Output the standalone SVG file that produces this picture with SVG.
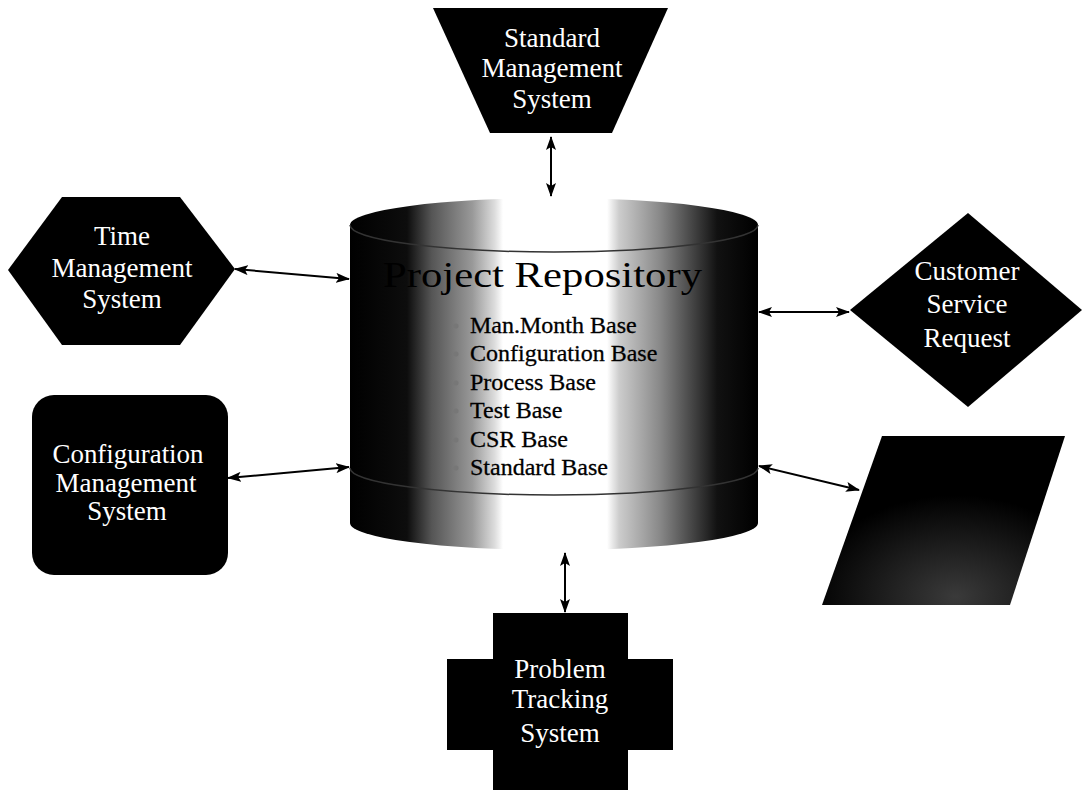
<svg xmlns="http://www.w3.org/2000/svg" width="1084" height="793" viewBox="0 0 1084 793">
<style>
.lbl{font-family:"Liberation Serif","Times New Roman",serif;font-size:27px;fill:#fff;text-anchor:middle}
.title{font-family:"Liberation Serif","Times New Roman",serif;font-size:36px;fill:#000}
.item{font-family:"Liberation Serif","Times New Roman",serif;font-size:24px;fill:#000;stroke:#000;stroke-width:0.3}
.node{fill:#000}
.conn{stroke:#000;stroke-width:2;fill:none;marker-start:url(#ah);marker-end:url(#ah)}
</style>
<defs>
<marker id="ah" viewBox="0 0 14 10" refX="13" refY="5" markerWidth="14" markerHeight="10" markerUnits="userSpaceOnUse" orient="auto-start-reverse">
<path d="M0,0 L14,5 L0,10 L3,5 z" fill="#000"/>
</marker>
<linearGradient id="cyl" x1="350" y1="0" x2="758" y2="0" gradientUnits="userSpaceOnUse">
<stop offset="0" stop-color="#000"/>
<stop offset="0.14" stop-color="#0d0d0d"/>
<stop offset="0.2" stop-color="#555"/>
<stop offset="0.3" stop-color="#999"/>
<stop offset="0.355" stop-color="#ddd"/>
<stop offset="0.375" stop-color="#fff"/>
<stop offset="0.63" stop-color="#fff"/>
<stop offset="0.66" stop-color="#ccc"/>
<stop offset="0.76" stop-color="#888"/>
<stop offset="0.84" stop-color="#444"/>
<stop offset="0.9" stop-color="#111"/>
<stop offset="1" stop-color="#000"/>
</linearGradient>
<radialGradient id="para" cx="0.55" cy="0.95" r="0.6">
<stop offset="0" stop-color="#3a3a3a"/>
<stop offset="1" stop-color="#000"/>
</radialGradient>
</defs>
<rect width="1084" height="793" fill="#fff"/>

<g id="connectors">
<line class="conn" x1="551" y1="137" x2="551" y2="196"/>
<line class="conn" x1="565" y1="553" x2="565" y2="612"/>
<line class="conn" x1="235" y1="269" x2="349" y2="279"/>
<line class="conn" x1="228" y1="478" x2="349" y2="467"/>
<line class="conn" x1="759" y1="312" x2="849" y2="312"/>
<line class="conn" x1="759" y1="466" x2="859" y2="490"/>
</g>

<g id="repository">
<path d="M350,225 L350,523 A204,27 0 0 0 758,523 L758,225 Z" fill="url(#cyl)"/>
<ellipse cx="554" cy="225" rx="204" ry="27" fill="url(#cyl)"/>
<path d="M350,225 A204,27 0 0 0 758,225" fill="none" stroke="#333" stroke-width="1.5"/>
<path d="M350,468 A204,27 0 0 0 758,468" fill="none" stroke="#333" stroke-width="1.5"/>
<text class="title" x="383" y="287" textLength="319" lengthAdjust="spacingAndGlyphs">Project Repository</text>
<g fill="#777">
<circle cx="456" cy="326" r="2.5"/>
<circle cx="456" cy="354" r="2.5"/>
<circle cx="456" cy="383" r="2.5"/>
<circle cx="456" cy="411" r="2.5"/>
<circle cx="456" cy="440" r="2.5"/>
<circle cx="456" cy="468" r="2.5"/>
</g>
<text class="item" x="470" y="333">Man.Month Base</text>
<text class="item" x="470" y="361">Configuration Base</text>
<text class="item" x="470" y="390">Process Base</text>
<text class="item" x="470" y="418">Test Base</text>
<text class="item" x="470" y="447">CSR Base</text>
<text class="item" x="470" y="475">Standard Base</text>
</g>

<g id="standard-management">
<polygon class="node" points="433,8 668,8 612,133 490,133"/>
<text class="lbl" x="552" y="47">Standard</text>
<text class="lbl" x="552" y="77">Management</text>
<text class="lbl" x="552" y="108">System</text>
</g>

<g id="time-management">
<polygon class="node" points="8,270 62,197 180,197 235,269 180,345 62,345"/>
<text class="lbl" x="122" y="245">Time</text>
<text class="lbl" x="122" y="277">Management</text>
<text class="lbl" x="122" y="308">System</text>
</g>

<g id="configuration-management">
<rect class="node" x="32" y="395" width="196" height="180" rx="22"/>
<text class="lbl" x="128" y="463" textLength="151" lengthAdjust="spacingAndGlyphs">Configuration</text>
<text class="lbl" x="126" y="492">Management</text>
<text class="lbl" x="127" y="520">System</text>
</g>

<g id="customer-service">
<polygon class="node" points="850,310 968,213 1082,310 968,407"/>
<text class="lbl" x="967" y="280">Customer</text>
<text class="lbl" x="967" y="313">Service</text>
<text class="lbl" x="967" y="347">Request</text>
</g>

<g id="parallelogram">
<polygon points="882,436 1065,436 1010,605 822,605" fill="url(#para)"/>
</g>

<g id="problem-tracking">
<polygon class="node" points="493,613 628,613 628,659 673,659 673,750 628,750 628,790 493,790 493,750 447,750 447,659 493,659"/>
<text class="lbl" x="560" y="678">Problem</text>
<text class="lbl" x="560" y="708">Tracking</text>
<text class="lbl" x="560" y="742">System</text>
</g>
</svg>
